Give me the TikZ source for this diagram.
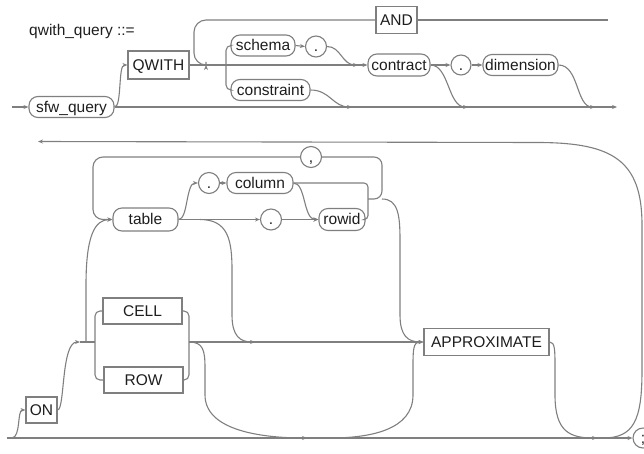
\documentclass[tikz,border=0pt]{standalone}
\usepackage{fontspec}
\setmainfont{Liberation Sans}
\usetikzlibrary{arrows.meta}
\definecolor{lncol}{HTML}{7F7F7F}
\definecolor{txcol}{HTML}{1E1E1E}
\begin{document}
\begin{tikzpicture}[x=1pt,y=-1pt,
  ln/.style={draw=lncol,line width=1.1pt},
  ar/.style={ln,-{Stealth[length=5pt,width=4pt]}},
  base/.style={font=\fontsize{15.5}{18}\selectfont,text=txcol,inner sep=0pt,text height=11pt,text depth=1pt,draw=lncol,line width=1.1pt,fill=white},
  term/.style={base,rectangle},
  nterm/.style={base,rectangle,rounded corners=9pt},
  sym/.style={base,circle,minimum size=21pt},
]
\useasboundingbox (0,0) rectangle (644,453);

% title
\node[font=\fontsize{15.5}{18}\selectfont,text=txcol,inner sep=0pt,anchor=base west] (title) at (29,35) {qwith\_query ::=};

% ---- top section nodes
\node[nterm,minimum width=85pt,minimum height=21pt] (sfw) at (71.5,107) {sfw\_query};
\node[term,minimum width=61pt,minimum height=28pt] (QWITH) at (158.5,65) {QWITH};
\node[term,minimum width=41pt,minimum height=27pt] (AND) at (396.5,20) {AND};
\node[nterm,minimum width=64pt,minimum height=21pt] (schema) at (263,45.5) {schema};
\node[sym] (dot1) at (316,46.5) {.};
\node[nterm,minimum width=62pt,minimum height=22pt] (contract) at (399,65) {contract};
\node[nterm,minimum width=79pt,minimum height=21pt] (constraint) at (270.5,90) {constraint};
\node[sym,minimum size=20pt] (dot2) at (461,65) {.};
\node[nterm,minimum width=75pt,minimum height=21pt] (dimension) at (520.5,65) {dimension};

% ---- top section connectors
\draw[ar] (12,107) -- (sfw.west);
\draw[ar] (sfw.east) -- (617,107);
\draw[ar] (sfw.east) .. controls (122,107) and (118,65) .. (QWITH.west);
\draw[ar] (QWITH.east) -- (contract.west);
\draw[ln] (608,20) -- (AND.east);
\draw[ar,rounded corners=12pt] (AND.west) -- (194,20) -- (194,65) -- (206,65);
\draw[ln,rounded corners=5pt] (schema.west) -- (226,45.5) -- (226,90) -- (constraint.west);
\draw[ar] (schema.east) -- (dot1.west);
\draw[ar] (dot1.east) .. controls (341,46.5) and (342,65) .. (358,65);
\draw[ar] (constraint.east) .. controls (330,90) and (333,107) .. (352,107);
\draw[ar] (contract.east) -- (dot2.west);
\draw[ar] (contract.east) .. controls (449,65) and (448,107) .. (468,107);
\draw[ar] (dot2.east) -- (dimension.west);
\draw[ar] (dimension.east) .. controls (579,65) and (576,107) .. (595,107);

% ---- bottom section nodes
\node[nterm,minimum width=65pt,minimum height=23pt] (table) at (145.5,219.5) {table};
\node[sym] (dot3) at (209,183) {.};
\node[nterm,minimum width=66pt,minimum height=21pt] (column) at (260,183) {column};
\node[sym] (comma) at (311,157) {,};
\node[sym] (dot4) at (271,219.5) {.};
\node[nterm,minimum width=46pt,minimum height=22pt] (rowid) at (342,219.5) {rowid};
\node[term,minimum width=79pt,minimum height=26pt] (CELL) at (142.5,311) {CELL};
\node[term,minimum width=79pt,minimum height=26pt] (ROW) at (143.5,380) {ROW};
\node[term,minimum width=31pt,minimum height=26pt] (ON) at (41.5,410) {ON};
\node[term,minimum width=125pt,minimum height=27pt] (APPROX) at (486.5,342) {APPROXIMATE};
\node[sym,minimum size=20pt] (semi) at (643,438) {;};

% ---- return line
\draw[ar] (603,438) .. controls (634,438) and (642,420) .. (642,370) -- (642,225) .. controls (642,160) and (612,143) .. (540,142.5) -- (38,141.5);

% ---- bottom section connectors
\draw[ar] (7,438) -- (semi.west);
\draw[ar] (12,438) .. controls (21,437) and (17,410) .. (ON.west);
\draw[ar] (ON.east) .. controls (65,410) and (61,342) .. (80,342);
\draw[ln] (80,342) -- (95,342);
\draw[ar] (86,342) -- (86,285) .. controls (86,235) and (95,219.5) .. (table.west);
\draw[ar,rounded corners=10pt] (comma.west) -- (93,157) -- (93,219.5) -- (table.west);
\draw[ln,rounded corners=5pt] (CELL.west) -- (95,311) -- (95,380) -- (ROW.west);
\draw[ln,rounded corners=5pt] (CELL.east) -- (189,311) -- (189,380) -- (ROW.east);
\draw[ar] (189,342) -- (APPROX.west);
\draw[ar] (table.east) .. controls (188,219.5) and (186,183) .. (dot3.west);
\draw[ar] (dot3.east) -- (column.west);
\draw[ar] (table.east) -- (dot4.west);
\draw[ar] (dot4.east) -- (rowid.west);
\draw[ar] (column.east) .. controls (306,183) and (303,219.5) .. (rowid.west);
\draw[ln,rounded corners=4pt] (column.east) -- (368,183) -- (368,219.5) -- (rowid.east);
\draw[ln,rounded corners=8pt] (368,199) -- (382,199) -- (382,157) -- (comma.east);
\draw[ar] (382,199) .. controls (398,199) and (400,215) .. (400,240) -- (400,315) .. controls (400,336) and (408,342) .. (APPROX.west);
\draw[ar] (200,219.5) .. controls (228,219.5) and (232,240) .. (232,270) -- (232,315) .. controls (232,336) and (240,342) .. (255,342);
\draw[ar] (189,342) .. controls (203,342) and (205,350) .. (205,368) -- (205,395) .. controls (205,430) and (260,438) .. (307,438);
\draw[ln] (420,342) .. controls (413,342) and (413,350) .. (413,368) -- (413,395) .. controls (413,430) and (370,438) .. (330,438);
\draw[ar] (APPROX.east) .. controls (555,342) and (555,350) .. (555,368) -- (555,395) .. controls (555,432) and (570,438) .. (597,438);
\end{tikzpicture}
\end{document}
